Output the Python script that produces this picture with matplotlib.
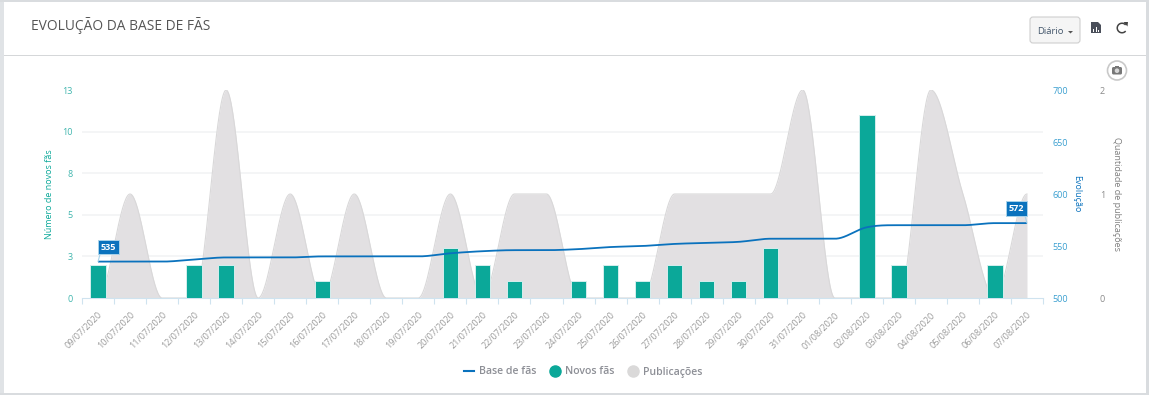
import numpy as np
import matplotlib
matplotlib.use('Agg')
import matplotlib.pyplot as plt
from matplotlib.lines import Line2D
from matplotlib.patches import Arc, Circle, FancyBboxPatch, Polygon, Rectangle

plt.rcParams['font.family'] = ['Open Sans', 'DejaVu Sans']

# Data
dates = ['09/07/2020', '10/07/2020', '11/07/2020', '12/07/2020', '13/07/2020', '14/07/2020',
         '15/07/2020', '16/07/2020', '17/07/2020', '18/07/2020', '19/07/2020', '20/07/2020',
         '21/07/2020', '22/07/2020', '23/07/2020', '24/07/2020', '25/07/2020', '26/07/2020',
         '27/07/2020', '28/07/2020', '29/07/2020', '30/07/2020', '31/07/2020', '01/08/2020',
         '02/08/2020', '03/08/2020', '04/08/2020', '05/08/2020', '06/08/2020', '07/08/2020']
novos_fas = [2, 0, 0, 2, 2, 0, 0, 1, 0, 0, 0, 3, 2, 1, 0, 1, 2, 1, 2, 1, 1, 3, 0, 0, 11, 2, 0, 0, 2, 0]
base_fas = [535, 535, 535, 537, 539, 539, 539, 540, 540, 540, 540, 543, 545, 546, 546, 547, 549, 550,
            552, 553, 554, 557, 557, 557, 568, 570, 570, 570, 572, 572]
publicacoes = [0, 1, 0, 0, 2, 0, 1, 0, 1, 0, 0, 1, 0, 1, 1, 0, 0, 0, 1, 1, 1, 1, 2, 0, 0, 0, 2, 1, 0, 1]

novos_ticks = [0, 2.5, 5, 7.5, 10, 12.5]
novos_labels = ['0', '3', '5', '8', '10', '13']
base_ticks = [500, 550, 600, 650, 700]
pub_ticks = [0, 1, 2]

TEAL = '#0ba899'
BLUE = '#0a72bd'
GRAY = '#e2e0e2'
W, H = 1149, 395


def smooth(values, per_segment=40):
    # monotone hermite curve, same look as the spline in the original chart
    y = np.array(values, dtype=float)
    n = len(y)
    m = np.zeros(n)
    for i in range(1, n - 1):
        if (y[i] - y[i - 1]) * (y[i + 1] - y[i]) > 0:
            m[i] = (y[i + 1] - y[i - 1]) / 2
    xs, ys = [], []
    for i in range(n - 1):
        t = np.linspace(0, 1, per_segment)
        h00 = 2 * t**3 - 3 * t**2 + 1
        h10 = t**3 - 2 * t**2 + t
        h01 = -2 * t**3 + 3 * t**2
        h11 = t**3 - t**2
        xs.append(i + t)
        ys.append(h00 * y[i] + h10 * m[i] + h01 * y[i + 1] + h11 * m[i + 1])
    return np.concatenate(xs), np.concatenate(ys)


fig = plt.figure(figsize=(W / 100, H / 100), dpi=100, facecolor='white')
rect = [82 / W, 1 - 298 / H, 961 / W, 208 / H]

# Publicacoes sits at the back, with the grid
ax_pub = fig.add_axes(rect, zorder=1)
xs = np.arange(len(dates))
px, py = smooth(publicacoes)
ax_pub.set_axisbelow(True)
ax_pub.fill_between(px, 0, py, color=GRAY, linewidth=0, zorder=2)
ax_pub.plot(px, py, color='#d9d8d9', linewidth=0.8, zorder=2)
ax_pub.set_xlim(-0.5, 29.5)
ax_pub.set_ylim(0, 2)
ax_pub.yaxis.tick_right()
ax_pub.set_yticks(pub_ticks)
ax_pub.set_yticks(np.linspace(0, 2, 6), minor=True)
ax_pub.grid(which='minor', axis='y', color='#f2f3f5', linewidth=1.2)
ax_pub.tick_params(axis='y', which='both', length=0)
ax_pub.tick_params(axis='y', which='major', pad=41, labelsize=6.5, labelcolor='#8a8a8a')
ax_pub.set_xticks(xs)
ax_pub.set_xticklabels(dates, rotation=45, ha='right', rotation_mode='anchor', fontsize=6.5, color='#9a9a9a')
ax_pub.set_xticks(np.arange(-0.5, 30, 1), minor=True)
ax_pub.tick_params(axis='x', which='major', length=0, pad=9)
ax_pub.tick_params(axis='x', which='minor', length=4.5, width=0.8, color='#cfe3ef')
ax_pub.set_ylabel('Quantidade de publicações', rotation=270, fontsize=6.5, color='#7f7f7f')
ax_pub.yaxis.set_label_position('right')
ax_pub.yaxis.set_label_coords(1.0807, 0.5)
for s in ['top', 'left', 'right']:
    ax_pub.spines[s].set_visible(False)
ax_pub.spines['bottom'].set_color('#cfe3ef')

# Novos fas
ax = fig.add_axes(rect, zorder=2, sharex=ax_pub)
ax.patch.set_visible(False)
ax.bar(xs, novos_fas, width=0.48, color=TEAL, edgecolor='#d5eeee', linewidth=0.7)
ax.set_ylim(0, 12.5)
ax.set_yticks(novos_ticks)
ax.set_yticklabels(novos_labels, fontsize=6.5, color='#3fb5ad')
ax.tick_params(axis='y', length=0, pad=7)
ax.tick_params(axis='x', which='both', length=0, labelbottom=False)
ax.set_ylabel('Número de novos fãs', fontsize=6.5, color=TEAL)
ax.yaxis.set_label_coords(-0.029, 0.5)
for s in ax.spines.values():
    s.set_visible(False)

# Base de fas
ax_line = fig.add_axes(rect, zorder=3, sharex=ax_pub)
ax_line.patch.set_visible(False)
lx, ly = smooth(base_fas)
ax_line.plot(lx, ly, color=BLUE, linewidth=1.3, solid_capstyle='butt')
ax_line.set_ylim(500, 700)
ax_line.yaxis.tick_right()
ax_line.set_yticks(base_ticks)
ax_line.tick_params(axis='y', length=0, pad=7, labelsize=6.5, labelcolor='#3a9fd0')
ax_line.tick_params(axis='x', which='both', length=0, labelbottom=False)
ax_line.set_ylabel('Evolução', rotation=270, fontsize=6.5, color=BLUE)
ax_line.yaxis.set_label_position('right')
ax_line.yaxis.set_label_coords(1.0396, 0.5)
for s in ax_line.spines.values():
    s.set_visible(False)

# Flags on the first and last points
for idx, ha, dx in [(0, 'left', 1), (len(dates) - 1, 'right', -1)]:
    ax_line.annotate(str(base_fas[idx]), xy=(idx, base_fas[idx]),
                     xytext=(dx * 2, 10.5), textcoords='offset points', ha=ha, va='center',
                     fontsize=6.6, fontweight='bold', color='white',
                     bbox=dict(boxstyle='square,pad=0.32', fc=BLUE, ec='#a9d3ea', lw=0.7),
                     arrowprops=dict(arrowstyle='-', color='#a9d3ea', lw=0.8, shrinkA=0, shrinkB=0,
                                     relpos=(0, 0) if dx > 0 else (1, 0)))

# Legend
handles = [Line2D([], [], color=BLUE, linewidth=1.5),
           Line2D([], [], color=TEAL, marker='o', markersize=8, linestyle='none'),
           Line2D([], [], color='#dad9d9', marker='o', markersize=8, linestyle='none')]
fig.legend(handles, ['Base de fãs', 'Novos fãs', 'Publicações'], ncol=3, frameon=False,
           loc='center', bbox_to_anchor=(583 / W, 1 - 372 / H), labelcolor='#8d8f96',
           handlelength=1.0, handletextpad=0.45, columnspacing=1.25, prop={'weight': 'semibold', 'size': 7.6})

# Panel around the chart, drawn in pixel coordinates
page = fig.add_axes([0, 0, 1, 1], zorder=5)
page.set_xlim(0, W)
page.set_ylim(H, 0)
page.axis('off')
page.add_patch(Rectangle((0, 0), 4, H, color='#e0e3e6', lw=0))
page.add_patch(Rectangle((0, 0), W, 2, color='#d9dcdf', lw=0))
page.add_patch(Rectangle((1146, 0), 3, H, color='#d9dcdf', lw=0))
page.add_patch(Rectangle((0, 392.5), W, 2.5, color='#d9dcdf', lw=0))
page.add_patch(Rectangle((4, 55), 1142, 1, color='#d5d7d9', lw=0))
page.text(31, 26, 'EVOLUÇÃO DA BASE DE FÃS', fontsize=9.9, color='#555555', va='center', ha='left')

# Button
page.add_patch(FancyBboxPatch((1030, 17), 50, 26, boxstyle='round,pad=0,rounding_size=3',
                              fc='#f5f5f5', ec='#cfcfcf', lw=0.8))
page.text(1037, 31.5, 'Diário', fontsize=6.8, color='#43566b', va='center', ha='left')
page.add_patch(Polygon([[1068, 31], [1073, 31], [1070.5, 33.5]], color='#555555', lw=0))

# File and refresh icons
page.add_patch(Polygon([[1091, 22], [1098, 22], [1101, 25], [1101, 33], [1091, 33]], color='#4a4f5a', lw=0))
for bx, bh in [(1093, 3), (1095.5, 5), (1098, 2)]:
    page.add_patch(Rectangle((bx, 32 - bh), 1.4, bh, color='white', lw=0))
page.add_patch(Arc((1122, 28), 9.5, 9.5, theta1=40, theta2=320, color='#444444', lw=1.1))
page.add_patch(Polygon([[1123.5, 22], [1128, 22], [1127.5, 26.5]], color='#444444', lw=0))

# Camera icon
page.add_patch(Circle((1117, 70.5), 9.5, fc='white', ec='#c9c9c9', lw=1.2))
page.add_patch(FancyBboxPatch((1112, 67), 10, 7.5, boxstyle='round,pad=0,rounding_size=1.5', fc='#777777', ec='none'))
page.add_patch(Rectangle((1115, 65.5), 4, 2, color='#777777', lw=0))
page.add_patch(Circle((1117, 70.7), 2.3, fc='#d6d6d6', ec='none'))

fig.savefig('out.png', dpi=100)
